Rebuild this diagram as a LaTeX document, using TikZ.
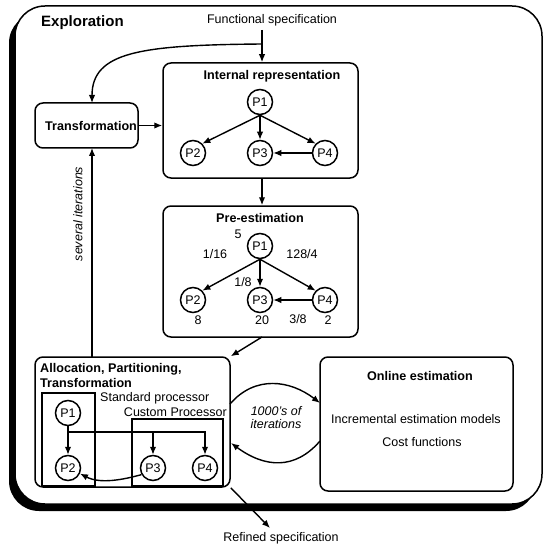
\documentclass[tikz,border=0pt]{standalone}
\usepackage{fontspec}
\setmainfont{Liberation Sans}
\usetikzlibrary{arrows.meta}
\newcommand\fsreg{\fontsize{12.5}{14}\selectfont}
\newcommand\fsbold{\fontsize{12.6}{14}\selectfont\bfseries}
\begin{document}
\begin{tikzpicture}[x=1pt,y=-1pt,
  box/.style={draw, line width=1.5pt, rounded corners=8pt, inner sep=0pt},
  sqbox/.style={draw, line width=1.5pt, inner sep=0pt},
  proc/.style={circle, draw, line width=1.5pt, minimum size=25pt, inner sep=0pt, font=\fsreg},
  arr/.style={-{Latex[length=8pt,width=6.5pt]}, line width=1.4pt},
  reg/.style={font=\fsreg, inner sep=0pt},
  bold/.style={font=\fsbold, inner sep=0pt},
  ital/.style={font=\fsreg\itshape, inner sep=0pt, align=center}]
\useasboundingbox (0,0) rectangle (544,548);
% outer frame with shadow
\fill[black, rounded corners=30pt] (9,13) rectangle (536,511);
\filldraw[fill=white, draw=black, line width=1.5pt, rounded corners=30pt] (15,6) rectangle (542,504);

\node[font=\fontsize{15}{17}\selectfont\bfseries, inner sep=0pt, anchor=west] (explo) at (41,23) {Exploration};
\node[reg] (fspec) at (272,20) {Functional specification};

% Transformation
\node[box, minimum width=103pt, minimum height=45pt] (tr) at (86.5,125.5) {};
\node[bold, anchor=west] (trt) at (45,126) {Transformation};

% Internal representation
\node[box, minimum width=195pt, minimum height=115pt] (ir) at (260.5,120.5) {};
\node[bold] (irt) at (272,76) {Internal representation};
\node[proc] (i1) at (260,102) {P1};
\node[proc] (i2) at (193,153) {P2};
\node[proc] (i3) at (260,153) {P3};
\node[proc] (i4) at (325,153) {P4};
\draw[arr] (i1.south) -- (i2.north east);
\draw[arr] (i1.south) -- (i3.north);
\draw[arr] (i1.south) -- (i4.north west);
\draw[arr] (i4.west) -- (i3.east);

% Pre-estimation
\node[box, minimum width=195pt, minimum height=131pt] (pe) at (260.5,271.5) {};
\node[bold] (pet) at (260,218) {Pre-estimation};
\node[proc] (p1) at (260,246) {P1};
\node[proc] (p2) at (193,300) {P2};
\node[proc] (p3) at (260,300) {P3};
\node[proc] (p4) at (325,300) {P4};
\draw[arr] (p1.south) -- (p2.north east);
\draw[arr] (p1.south) -- (p3.north);
\draw[arr] (p1.south) -- (p4.north west);
\draw[arr] (p4.west) -- (p3.east);
\node[reg] (l5) at (238,234) {5};
\node[reg] (l116) at (215,254) {1/16};
\node[reg] (l1284) at (302,254) {128/4};
\node[reg] (l18) at (243,282) {1/8};
\node[reg] (l8) at (198,320) {8};
\node[reg] (l20) at (262,320) {20};
\node[reg] (l38) at (298,319) {3/8};
\node[reg] (l2) at (328,320) {2};

% Allocation
\node[box, minimum width=195pt, minimum height=130pt] (al) at (132.5,422) {};
\node[bold, anchor=west] (alt1) at (40,369) {Allocation, Partitioning,};
\node[bold, anchor=west] (alt2) at (40,383) {Transformation};
\node[sqbox, minimum width=53pt, minimum height=93pt] (std) at (68.5,439.5) {};
\node[sqbox, minimum width=91pt, minimum height=67pt] (cus) at (177.5,452.5) {};
\node[reg, anchor=west] (stdt) at (100,398) {Standard processor};
\node[reg, anchor=east] (cust) at (227,412) {Custom Processor};
\node[proc] (a1) at (68,413) {P1};
\node[proc] (a2) at (68,468) {P2};
\node[proc] (a3) at (153,468) {P3};
\node[proc] (a4) at (205,468) {P4};
\coordinate (hj) at (68,432);
\draw[arr] (a1.south) -- (a2.north);
\draw[arr] (hj) -| (a3.north);
\draw[arr] (hj) -| (a4.north);
\draw[arr] (a3.210) .. controls (122,480) and (100,484) .. (a2.335);

% Online estimation
\node[box, minimum width=193pt, minimum height=134pt] (on) at (416.5,424) {};
\node[bold] (ont) at (420,376) {Online estimation};
\node[reg] (onm) at (416,419) {Incremental estimation models};
\node[reg] (onc) at (422,442) {Cost functions};

\node[ital] (it) at (276,418) {1000's of\\[-1pt]iterations};

% connectors
\coordinate (fs0) at (262,30);
\coordinate (fsb) at (262,44);
\coordinate (trin) at (92,103);
\coordinate (trout) at (92,148);
\coordinate (alin) at (92,357);
\draw[arr] (fs0) -- (ir.north -| fs0);
\draw[arr] (fsb) .. controls (140,45) and (92,52) .. (trin);
\draw[arr] (tr.east) -- (ir.west |- tr.east);
\draw[arr] (ir.south -| fs0) -- (pe.north -| fs0);
\draw[arr] (alin) -- (trout);
\node[ital, rotate=90] (sev) at (78,214) {several iterations};
\coordinate (pebot) at (262,337);
\draw[arr] (pebot) -- (al.north east);
\coordinate (o1) at (230,404);
\coordinate (o2) at (320,403);
\draw[arr] (o1) .. controls (255,375) and (290,380) .. (o2);
\coordinate (b1) at (320,441);
\coordinate (b2) at (231,443);
\draw[arr] (b1) .. controls (295,470) and (265,468) .. (b2);
\coordinate (rs) at (270,528);
\draw[arr] (al.south east) -- (rs);
\node[reg] (rst) at (281,538) {Refined specification};
\end{tikzpicture}
\end{document}
